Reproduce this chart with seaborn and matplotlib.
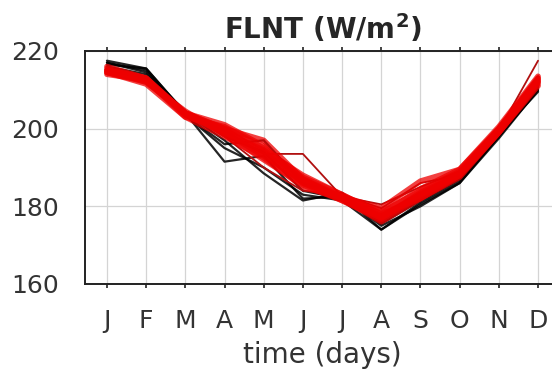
import numpy as np
import pandas as pd
import matplotlib
matplotlib.use("Agg")
import matplotlib.pyplot as plt
import seaborn as sns

# month labels
months = ["J", "F", "M", "A", "M", "J", "J", "A", "S", "O", "N", "D"]

# black ensemble members (W/m^2)
black_1 = [217.5, 215.5, 204.0, 191.5, 193.0, 182.0, 182.5, 175.0, 180.0, 186.0, 197.5, 210.0]
black_2 = [217.0, 215.0, 203.5, 196.0, 197.0, 186.0, 183.0, 174.0, 181.0, 186.5, 198.0, 210.5]
black_3 = [216.5, 215.5, 204.0, 197.0, 188.5, 181.5, 183.5, 175.5, 181.5, 187.0, 198.5, 209.5]
black_4 = [217.0, 214.5, 204.5, 198.0, 194.0, 184.0, 182.0, 176.0, 182.0, 187.5, 199.0, 211.0]
black_5 = [216.0, 214.0, 203.5, 195.0, 190.0, 183.0, 181.5, 174.0, 180.5, 186.0, 198.0, 210.0]

# red ensemble members (W/m^2)
red_1 = [215.0, 212.5, 203.5, 199.5, 194.0, 187.0, 182.0, 177.5, 183.0, 188.5, 199.5, 212.0]
red_2 = [214.5, 212.0, 204.0, 200.0, 193.5, 186.0, 182.5, 178.5, 184.0, 189.0, 200.0, 213.0]
red_3 = [215.5, 213.0, 204.0, 199.0, 193.0, 186.5, 182.0, 177.0, 183.0, 188.0, 199.0, 211.5]
red_4 = [214.0, 212.5, 203.0, 200.5, 195.0, 187.5, 183.0, 178.0, 184.5, 189.5, 200.5, 213.5]
red_5 = [215.0, 212.0, 204.5, 198.5, 192.0, 185.5, 181.5, 176.5, 182.5, 188.0, 199.0, 211.0]
red_6 = [214.5, 212.5, 204.0, 200.0, 197.0, 187.0, 182.5, 179.5, 186.5, 189.5, 200.0, 212.5]
red_7 = [215.0, 213.0, 203.5, 199.0, 194.5, 188.0, 183.0, 178.0, 182.0, 187.5, 199.0, 212.0]
red_8 = [216.0, 213.0, 204.0, 201.0, 195.5, 186.0, 181.5, 177.0, 183.5, 188.5, 200.0, 213.0]
red_9 = [214.5, 211.5, 203.0, 198.0, 192.5, 185.0, 182.0, 176.0, 182.0, 188.0, 199.5, 212.5]
# thin outlier members
red_thin_1 = [215.5, 213.5, 203.5, 199.5, 193.5, 193.5, 182.5, 180.5, 185.0, 189.0, 199.5, 217.5]
red_thin_2 = [215.0, 213.0, 204.0, 198.0, 190.0, 184.0, 183.0, 179.5, 186.0, 188.0, 199.0, 213.5]

black_runs = [black_1, black_2, black_3, black_4, black_5]
red_runs = [red_1, red_2, red_3, red_4, red_5, red_6, red_7, red_8, red_9]
thin_runs = [red_thin_1, red_thin_2]


def to_long(runs, tag):
    rows = []
    for i, r in enumerate(runs):
        for m, v in enumerate(r):
            rows.append({"month": m, "value": v, "run": f"{tag}{i}"})
    return pd.DataFrame(rows)


df_black = to_long(black_runs, "b")
df_red = to_long(red_runs, "r")
df_thin = to_long(thin_runs, "t")

sns.set_style("white")
plt.rcParams["font.family"] = ["DejaVu Sans"]

fig = plt.figure(figsize=(5.52, 3.85), dpi=100)
ax = fig.add_axes([85 / 552, 1 - 284 / 385, 475 / 552, 233 / 385])

sns.lineplot(data=df_black, x="month", y="value", units="run", estimator=None,
             color="black", lw=1.6, alpha=0.85, ax=ax)
sns.lineplot(data=df_thin, x="month", y="value", units="run", estimator=None,
             color="#b01010", lw=1.3, ax=ax)
sns.lineplot(data=df_red, x="month", y="value", units="run", estimator=None,
             color="#ee0000", lw=4.0, alpha=0.75, ax=ax)

ax.set_xlim(-0.56, 11.56)
ax.set_ylim(160, 220)
ax.set_xticks(range(12))
ax.set_xticklabels(months)
ax.set_yticks([160, 180, 200, 220])
ax.grid(True, color="#d4d4d4", lw=0.9)
ax.set_axisbelow(True)
ax.tick_params(axis="x", which="both", top=True, bottom=True, direction="out",
               length=3, width=1.2, labelsize=18, pad=15, colors="#222222")
ax.tick_params(axis="y", left=False, labelsize=18, pad=15, colors="#222222")
for lab in ax.get_xticklabels() + ax.get_yticklabels():
    lab.set_color("#333333")
for s in ax.spines.values():
    s.set_color("#222222")
    s.set_linewidth(1.4)

ax.set_xlabel("time (days)", fontsize=20, color="#333333", labelpad=6)
ax.set_ylabel("")
ax.set_title("FLNT (W/m$^\\mathbf{2}$)", fontsize=20, fontweight="bold", pad=9)

fig.savefig("out.png", dpi=100)
